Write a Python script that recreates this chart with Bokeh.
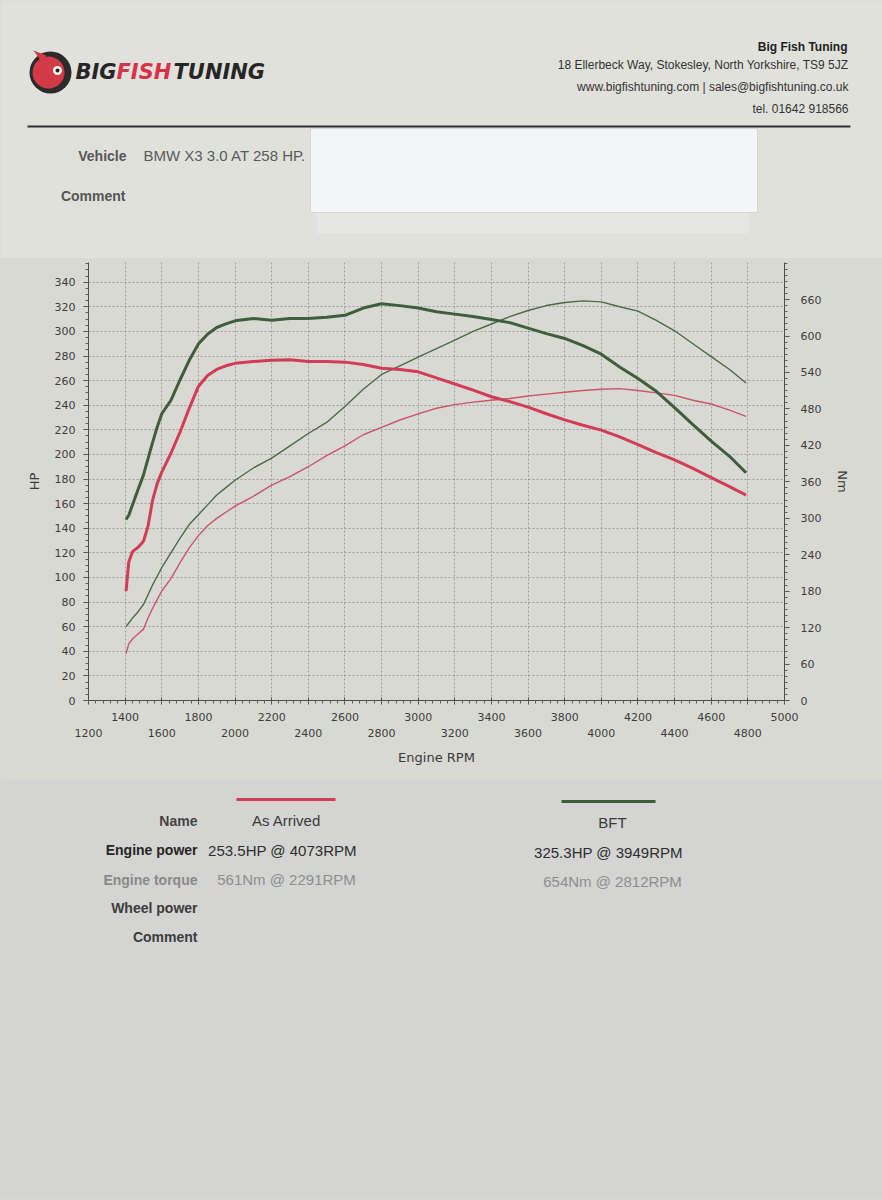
from bokeh.plotting import figure
from bokeh.models import Range1d, LinearAxis, SingleIntervalTicker, FixedTicker, Label
from bokeh.layouts import column
from bokeh.embed import file_html
from bokeh.resources import INLINE

# ---------------- data (read from the dyno sheet) ----------------
rpm = [1405, 1420, 1440, 1470, 1500, 1525, 1550, 1575, 1600, 1650,
       1700, 1750, 1800, 1850, 1900, 1950, 2000, 2100, 2200, 2300,
       2400, 2500, 2600, 2700, 2800, 2900, 3000, 3100, 3200, 3300,
       3400, 3500, 3600, 3700, 3800, 3900, 4000, 4100, 4200, 4300,
       4400, 4500, 4600, 4700, 4790]

bft_nm = [298, 305, 322, 347, 371, 398, 425, 450, 472, 494,
          528, 560, 587, 603, 614, 620, 625, 629, 626, 629,
          629, 631, 634, 646, 653, 650, 646, 640, 636, 632,
          627, 622, 613, 604, 596, 584, 570, 549, 530, 509,
          482, 454, 427, 402, 375]

bft_hp = [60, 63, 67, 72, 78, 86, 94, 101, 108, 120,
          132, 143, 151, 159, 167, 173, 179, 189, 197, 207,
          217, 226, 239, 253, 265, 272, 279, 286, 293, 300,
          306, 312, 317, 321, 323.5, 324.8, 324, 320, 316.5, 309,
          300.5, 290, 279.5, 269, 258]

arrived_nm = [180, 228, 245, 252, 262, 287, 330, 357, 376, 407,
              442, 481, 517, 535, 545, 551, 555, 558, 560, 561,
              558, 558, 557, 553, 547, 545, 541, 531, 521, 511,
              500, 492, 483, 472, 462, 453, 445, 434, 421, 408,
              396, 382, 367, 352, 338]

arrived_hp = [38, 46, 50, 54, 58, 67, 75, 82, 89, 99,
              112, 124, 134, 142, 148, 153, 158, 166, 175, 182,
              190, 199, 207, 216, 222, 228, 233, 237.5, 240.5, 242.5,
              244, 245.5, 247.5, 249, 250.5, 252, 253, 253.5, 252, 250,
              248, 244, 241, 236, 231]

x_row1_ticks = [1400, 1800, 2200, 2600, 3000, 3400, 3800, 4200, 4600, 5000]
x_row2_ticks = [1200, 1600, 2000, 2400, 2800, 3200, 3600, 4000, 4400, 4800]
nm_ticks = [0, 60, 120, 180, 240, 300, 360, 420, 480, 540, 600, 660]
nm_minor_ticks = list(range(0, 721, 10))

series_names = ["As Arrived", "BFT"]
peak_power = ["253.5HP @  4073RPM", "325.3HP @  3949RPM"]
peak_torque = ["561Nm @ 2291RPM", "654Nm @ 2812RPM"]
row_labels = ["Name", "Engine power", "Engine torque", "Wheel power", "Comment"]

RED = "#d23c55"
RED_THIN = "#c9566b"
GREEN = "#3e5e3c"
GREEN_THIN = "#4b6a48"

W = 882
SANS = "Liberation Sans"
AX_FONT = "DejaVu Sans"


def no_align(f):
    try:
        f.frame_align = False
    except Exception:
        pass


def sheet(h, y0, bg):
    f = figure(width=W, height=h, x_range=Range1d(0, W), y_range=Range1d(y0 + h, y0),
               output_backend="svg", toolbar_location=None, x_axis_type=None, y_axis_type=None,
               min_border=0, min_border_left=0, min_border_right=0, min_border_top=0, min_border_bottom=0)
    f.outline_line_color = None
    f.background_fill_color = bg
    f.border_fill_color = bg
    no_align(f)
    return f


def lab(f, x, y, text, size="14px", color="#333333", align="left", style="normal", font=SANS):
    f.add_layout(Label(x=x, y=y, text=text, text_font=font, text_font_size=size,
                       text_color=color, text_align=align, text_baseline="middle",
                       text_font_style=style))


# ---------------- header ----------------
hdr = sheet(258, 0, "#e1e1dc")
# logo
hdr.circle(x=[50], y=[72], radius=21, fill_color="#2b2b2b", line_color=None)
hdr.patch(x=[33, 41, 46], y=[50, 61, 55], fill_color="#d23a45", line_color=None)
hdr.circle(x=[48], y=[72], radius=16, fill_color="#d23a45", line_color=None)
hdr.circle(x=[57], y=[70], radius=4.5, fill_color="#f2f2f2", line_color=None)
hdr.circle(x=[57], y=[70], radius=2, fill_color="#222222", line_color=None)
lab(hdr, 75, 71, "BIG", size="21px", color="#262626", style="bold italic", font="DejaVu Sans")
lab(hdr, 116, 71, "FISH", size="21px", color="#d8314a", style="bold italic", font="DejaVu Sans")
lab(hdr, 173, 71, "TUNING", size="21px", color="#262626", style="bold italic", font="DejaVu Sans")
# company block
lab(hdr, 847, 46, "Big Fish Tuning", size="12px", color="#222222", align="right", style="bold")
lab(hdr, 848, 64, "18 Ellerbeck Way, Stokesley, North Yorkshire, TS9 5JZ", size="12px", color="#333333", align="right")
lab(hdr, 848, 86, "www.bigfishtuning.com | sales@bigfishtuning.co.uk", size="12px", color="#333333", align="right")
lab(hdr, 848, 108, "tel. 01642 918566", size="12px", color="#333333", align="right")
hdr.line(x=[27, 850], y=[126, 126], line_color="#303030", line_width=2)
# vehicle / comment
lab(hdr, 126, 155, "Vehicle", size="14px", color="#555555", align="right", style="bold")
lab(hdr, 143, 155, "BMW X3 3.0 AT 258 HP.", size="15px", color="#5a5a5a")
lab(hdr, 125, 195, "Comment", size="14px", color="#555555", align="right", style="bold")
# covering slip of paper
hdr.quad(left=[316], right=[748], top=[212], bottom=[233], fill_color="#e6e6e4", line_color=None)
hdr.quad(left=[310], right=[757], top=[128], bottom=[212], fill_color="#f4f5f7", line_color="#d6d6d6")

# ---------------- chart ----------------
BG = "#d9d9d3"
p = figure(width=W, height=522, x_range=Range1d(1200, 5000), y_range=Range1d(0, 356),
           output_backend="svg", toolbar_location=None,
           min_border_left=88, min_border_right=98, min_border_top=4, min_border_bottom=80)
no_align(p)
p.extra_y_ranges = {"nm": Range1d(0, 721)}
p.background_fill_color = BG
p.border_fill_color = BG
p.outline_line_color = None


def style_axis(ax):
    ax.axis_line_color = "#4d4d4d"
    ax.major_tick_line_color = "#4d4d4d"
    ax.minor_tick_line_color = "#5e5e5e"
    ax.major_label_text_font = AX_FONT
    ax.major_label_text_font_size = "11px"
    ax.major_label_text_color = "#3d3d3d"
    ax.axis_label_text_font = AX_FONT
    ax.axis_label_text_font_size = "13px"
    ax.axis_label_text_font_style = "normal"
    ax.axis_label_text_color = "#3a3a3a"


# bottom axis, first row of labels
xa = p.xaxis[0]
xa.ticker = SingleIntervalTicker(interval=200, num_minor_ticks=5)
xa.major_label_overrides = {t: "" for t in x_row2_ticks}
style_axis(xa)
xa.major_tick_in = 3
xa.major_tick_out = 4
xa.minor_tick_in = 0
xa.minor_tick_out = 3
xa.major_label_standoff = 8

# bottom axis, second row of labels
xb = LinearAxis(ticker=FixedTicker(ticks=x_row2_ticks), axis_label="Engine RPM")
style_axis(xb)
xb.axis_line_color = None
xb.major_tick_line_color = None
xb.minor_tick_line_color = None
xb.major_tick_in = 0
xb.major_tick_out = 0
xb.major_label_standoff = 5
xb.axis_label_standoff = 10
p.add_layout(xb, "below")

# left axis (HP)
ya = p.yaxis[0]
ya.ticker = SingleIntervalTicker(interval=20, num_minor_ticks=4)
ya.axis_label = "HP"
style_axis(ya)
ya.major_tick_in = 0
ya.major_tick_out = 5
ya.minor_tick_in = 0
ya.minor_tick_out = 3
ya.major_label_standoff = 8
ya.axis_label_standoff = 10

# right axis (Nm)
yr = LinearAxis(y_range_name="nm", ticker=FixedTicker(ticks=nm_ticks, minor_ticks=nm_minor_ticks),
                axis_label="Nm")
style_axis(yr)
yr.major_tick_in = 0
yr.major_tick_out = 5
yr.minor_tick_in = 0
yr.minor_tick_out = 3
yr.major_label_standoff = 11
yr.axis_label_standoff = 11
p.add_layout(yr, "right")

for g in (p.xgrid[0], p.ygrid[0]):
    g.grid_line_color = "#8a8a8a"
    g.grid_line_dash = "2 2"
    g.grid_line_alpha = 0.75
    g.grid_line_width = 1

p.line(rpm, arrived_hp, line_color=RED_THIN, line_width=1.4)
p.line(rpm, bft_hp, line_color=GREEN_THIN, line_width=1.4)
p.line(rpm, arrived_nm, y_range_name="nm", line_color=RED, line_width=3)
p.line(rpm, bft_nm, y_range_name="nm", line_color=GREEN, line_width=3)

# ---------------- footer table ----------------
ftr = sheet(419, 780, "#d4d4d2")
ftr.line(x=[236, 335], y=[799, 799], line_color=RED, line_width=3)
ftr.line(x=[561, 655], y=[801, 801], line_color=GREEN, line_width=3)

row_y = [820, 849, 879, 907, 936]
row_colors = ["#444444", "#262626", "#8a8a8a", "#3c3c3c", "#3c3c3c"]
for name, yy, cc in zip(row_labels, row_y, row_colors):
    lab(ftr, 197, yy, name, size="14px", color=cc, align="right", style="bold")

col_x = [286, 612]
col_dy = [0, 2]
for i in range(2):
    lab(ftr, col_x[i], 820 + col_dy[i], series_names[i], size="15px", color="#3a3a3a", align="center")
    lab(ftr, col_x[i] - 2, 849 + col_dy[i] + 1, peak_power[i], size="15px", color="#2e2e2e", align="center")
    lab(ftr, col_x[i], 879 + col_dy[i], peak_torque[i], size="15px", color="#8e8e8e", align="center")

page = column(hdr, p, ftr, spacing=0)

html = file_html(page, INLINE, title="Dyno sheet")
html = html.replace("</head>", "<style>html, body { background-color: #d8d8d4; }</style></head>", 1)
open("out.html", "w").write(html)
